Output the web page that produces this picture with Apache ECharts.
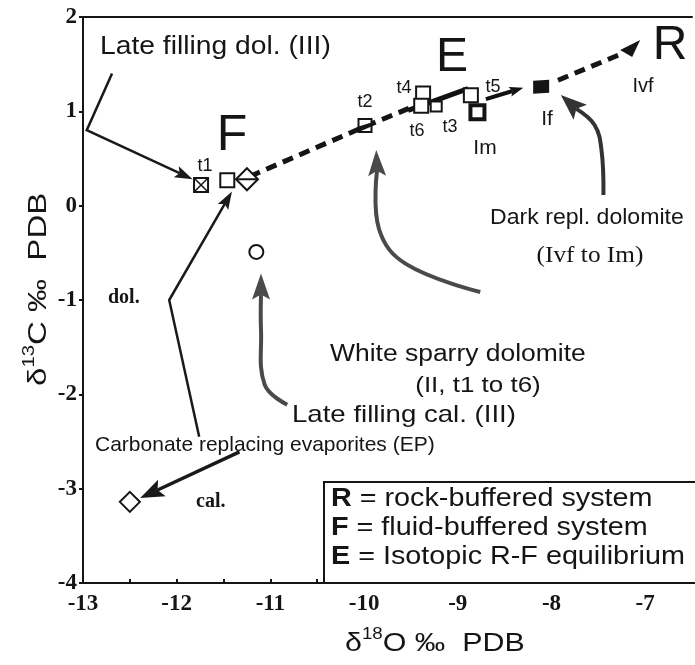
<!DOCTYPE html>
<html><head><meta charset="utf-8">
<script src="https://cdn.jsdelivr.net/npm/echarts@6/dist/echarts.min.js"></script>
<style>html,body{margin:0;padding:0;background:#fff}#chart{width:695px;height:665px}</style>
</head><body><div id="chart"></div>
<script>
// Stable-isotope compositions of carbonate phases (‰ PDB)
const sampleNames = ['t1', 'II', 'dol. EP', 't2', 't4', 't6', 't3', 't5', 'Im', 'If', 'Ivf', 'cal. III', 'cal. EP'];
const d18O = [-11.74, -11.46, -11.25, -9.99, -9.37, -9.39, -9.23, -8.86, -8.79, -8.11, -7.16, -11.15, -12.5];
const d13C = [0.22, 0.27, 0.28, 0.85, 1.19, 1.06, 1.05, 1.17, 0.99, 1.26, 1.66, -0.49, -3.14];

// Trend F -> E -> R
const trendFE = [[-11.22, 0.31], [-9.99, 0.84], [-9.50, 1.04]];
const trendER = [[-7.93, 1.33], [-7.25, 1.61]];

// Axis ticks
const xTicks = [-13, -12, -11, -10, -9, -8, -7];
const yTicks = [-4, -3, -2, -1, 0, 1, 2];

// Pointer arrows (data coordinates, last point = tip)
const pointers = [
  { path: [[-12.69, 1.40], [-12.96, 0.80], [-11.83, 0.28]], color: '#1a1a1a', width: 2.5, head: [18, 6], smooth: 0 },
  { path: [[-11.76, -2.45], [-12.08, -1.0], [-11.41, 0.15]], color: '#1a1a1a', width: 2.5, head: [18, 6], smooth: 0 },
  { path: [[-8.76, -0.915], [-9.55, -0.62], [-9.84, -0.25], [-9.87, 0.59]], color: '#4a4a4a', width: 4, head: [26, 9], smooth: 0.4 },
  { path: [[-10.82, -2.11], [-11.06, -1.90], [-11.10, -1.32], [-11.10, -0.72]], color: '#4a4a4a', width: 4, head: [26, 9], smooth: 0.4 },
  { path: [[-7.445, 0.113], [-7.466, 0.59], [-7.54, 0.855], [-7.90, 1.173]], color: '#333', width: 4, head: [26, 10], smooth: 0.4 },
  { path: [[-11.33, -2.61], [-12.39, -3.10]], color: '#1a1a1a', width: 3.5, head: [24, 9], smooth: 0 },
  { path: [[-9.53, 1.01], [-8.89, 1.24]], color: '#111', width: 5, head: null, smooth: 0 },
  { path: [[-8.70, 1.13], [-8.30, 1.25]], color: '#111', width: 4, head: [14, 5], smooth: 0 }
];

const markerFor = {
  't1': 'crossSquare', 'II': 'square', 'dol. EP': 'lineDiamond', 't2': 'halfSquare',
  't4': 'square', 't6': 'square', 't3': 'smallSquare', 't5': 'square', 'Im': 'boldSquare',
  'If': 'filledSquare', 'Ivf': 'filledTriangle', 'cal. III': 'circle', 'cal. EP': 'diamond'
};

const INK = '#151515';
const SANS = "'Liberation Sans', Arial, sans-serif";
const SERIF = "'Liberation Serif', 'Times New Roman', serif";

function drawMarker(params, api) {
  const name = sampleNames[params.dataIndex];
  const c = api.coord([api.value(0), api.value(1)]);
  const cx = c[0], cy = c[1];
  const stroke = { stroke: INK, lineWidth: 2, fill: '#fff' };
  const sq = (w, h, style) => ({ type: 'rect', shape: { x: cx - w / 2, y: cy - h / 2, width: w, height: h }, style: style });
  switch (markerFor[name]) {
    case 'square': return sq(14, 14, stroke);
    case 'smallSquare': return sq(11, 10, stroke);
    case 'boldSquare': return sq(14, 14, { stroke: INK, lineWidth: 4, fill: '#fff' });
    case 'filledSquare': return { type: 'polygon', shape: { points: [[cx - 8, cy - 6], [cx + 8, cy - 7], [cx + 8, cy + 6], [cx - 8, cy + 7]] }, style: { fill: INK } };
    case 'crossSquare': return { type: 'group', children: [
      sq(14, 14, stroke),
      { type: 'polyline', shape: { points: [[cx - 7, cy - 7], [cx + 7, cy + 7]] }, style: { stroke: INK, lineWidth: 1.5 } },
      { type: 'polyline', shape: { points: [[cx + 7, cy - 7], [cx - 7, cy + 7]] }, style: { stroke: INK, lineWidth: 1.5 } }
    ] };
    case 'halfSquare': return { type: 'group', children: [
      sq(13, 13, stroke),
      { type: 'polygon', shape: { points: [[cx - 6.5, cy + 6.5], [cx - 6.5, cy + 1], [cx + 6.5, cy - 3], [cx + 6.5, cy + 1]] }, style: { fill: INK } }
    ] };
    case 'lineDiamond': return { type: 'group', children: [
      { type: 'polygon', shape: { points: [[cx, cy - 11], [cx + 11, cy], [cx, cy + 11], [cx - 11, cy]] }, style: stroke },
      { type: 'polyline', shape: { points: [[cx - 11, cy], [cx + 11, cy]] }, style: { stroke: INK, lineWidth: 2 } }
    ] };
    case 'diamond': return { type: 'polygon', shape: { points: [[cx, cy - 10], [cx + 10, cy], [cx, cy + 10], [cx - 10, cy]] }, style: stroke };
    case 'circle': return { type: 'circle', shape: { cx: cx, cy: cy, r: 7 }, style: stroke };
    case 'filledTriangle': return { type: 'polygon', shape: { points: [[cx + 10, cy - 9], [cx - 10, cy + 1], [cx + 2, cy + 8]] }, style: { fill: INK } };
  }
}

function drawPointer(params, api) {
  const p = pointers[params.dataIndex];
  const pts = p.path.map(v => api.coord(v));
  const children = [];
  if (p.head) {
    const tip = pts[pts.length - 1], prev = pts[pts.length - 2];
    const dx = tip[0] - prev[0], dy = tip[1] - prev[1];
    const L = Math.hypot(dx, dy), ux = dx / L, uy = dy / L;
    const hl = p.head[0], hw = p.head[1];
    const base = [tip[0] - ux * hl * 0.8, tip[1] - uy * hl * 0.8];
    const b = [tip[0] - ux * hl, tip[1] - uy * hl];
    pts[pts.length - 1] = base;
    children.push({ type: 'polyline', shape: { points: pts, smooth: p.smooth }, style: { stroke: p.color, lineWidth: p.width, fill: null } });
    children.push({ type: 'polygon', shape: { points: [tip, [b[0] - uy * hw, b[1] + ux * hw], base, [b[0] + uy * hw, b[1] - ux * hw]] }, style: { fill: p.color } });
  } else {
    children.push({ type: 'polyline', shape: { points: pts, smooth: p.smooth }, style: { stroke: p.color, lineWidth: p.width, fill: null } });
  }
  return { type: 'group', children: children };
}

function txt(text, x, y, size, opts) {
  opts = opts || {};
  return {
    type: 'text', x: x, y: y, z: 50, scaleX: opts.sx || 1, rotation: opts.rot || 0,
    scaleY: opts.sy || 1,
    style: {
      text: text, fill: INK, align: opts.align || 'left', verticalAlign: 'middle',
      font: (opts.weight || 'normal') + ' ' + size + 'px ' + (opts.family || SANS),
      rich: opts.rich
    }
  };
}

const legendRich = {
  b: { fontFamily: SANS, fontWeight: 'bold', fontSize: 25, fill: INK },
  n: { fontFamily: SANS, fontSize: 25, fill: INK }
};
const nameRich = {
  n: { fontFamily: SANS, fontSize: 26, fill: INK, verticalAlign: 'bottom', lineHeight: 30 },
  s: { fontFamily: SANS, fontSize: 16, fill: INK, verticalAlign: 'top', lineHeight: 30 }
};

const graphics = [
  { type: 'rect', shape: { x: 324, y: 482, width: 380, height: 101 }, style: { fill: '#fff', stroke: INK, lineWidth: 2 }, z: 40 },
  txt('{b|R}{n| = rock-buffered system}', 331, 499, 25, { rich: legendRich, sx: 1.15 }),
  txt('{b|F}{n| = fluid-buffered system}', 331, 528, 25, { rich: legendRich, sx: 1.15 }),
  txt('{b|E}{n| = Isotopic R-F equilibrium}', 331, 557, 25, { rich: legendRich, sx: 1.15 }),
  txt('Late filling dol. (III)', 100, 47, 25, { sx: 1.13 }),
  txt('F', 232, 136, 50, { align: 'center' }),
  txt('E', 452, 58, 48, { align: 'center' }),
  txt('R', 670, 46, 48, { align: 'center' }),
  txt('t1', 205, 166, 18, { align: 'center' }),
  txt('t2', 365, 102, 18, { align: 'center' }),
  txt('t4', 404, 88, 18, { align: 'center' }),
  txt('t6', 417, 131, 18, { align: 'center' }),
  txt('t3', 450, 127, 18, { align: 'center' }),
  txt('t5', 493, 87, 18, { align: 'center' }),
  txt('Im', 485, 148, 21, { align: 'center' }),
  txt('If', 547, 119, 21, { align: 'center' }),
  txt('Ivf', 643, 86, 20, { align: 'center' }),
  txt('Dark repl. dolomite', 490, 218, 22, { sx: 1.05 }),
  txt('(Ivf to Im)', 590, 256, 23, { align: 'center', family: SERIF, sx: 1.1 }),
  txt('White sparry dolomite', 330, 355, 23, { sx: 1.15 }),
  txt('(II, t1 to t6)', 478, 386, 22, { align: 'center', sx: 1.18 }),
  txt('Late filling cal. (III)', 292, 415, 24, { sx: 1.15 }),
  txt('dol.', 108, 298, 20, { family: SERIF, weight: 'bold' }),
  txt('Carbonate replacing evaporites (EP)', 95, 445, 21, { sx: 1.0 }),
  txt('cal.', 196, 502, 20, { family: SERIF, weight: 'bold' }),
  txt('{n|δ}{s|18}{n|O ‰  PDB}', 345, 642, 26, { rich: nameRich, sx: 1.17 }),
  txt('{n|δ}{s|13}{n|C ‰  PDB}', 37, 386, 26, { rich: nameRich, rot: Math.PI / 2, sx: 1.27 })
];

const chart = echarts.init(document.getElementById('chart'), null, { renderer: 'canvas' });
const axisFont = { fontFamily: SERIF, fontWeight: 'bold', fontSize: 23, color: INK };
chart.setOption({
  animation: false,
  backgroundColor: '#fff',
  grid: { left: 83, right: 0, top: 17, bottom: 82, containLabel: false },
  xAxis: [
    {
      type: 'value', min: -13, max: -6.5, interval: 0.5,
      axisLine: { onZero: false, lineStyle: { color: INK, width: 2 } },
      axisTick: { inside: true, length: 4, lineStyle: { color: INK, width: 2 } },
      splitLine: { show: false },
      axisLabel: Object.assign({ margin: 10, formatter: v => (xTicks.indexOf(v) >= 0 ? String(v) : '') }, axisFont)
    },
    {
      type: 'value', position: 'top', min: -13, max: -6.5,
      axisLine: { onZero: false, lineStyle: { color: INK, width: 2 } },
      axisTick: { show: false }, axisLabel: { show: false }, splitLine: { show: false }
    }
  ],
  yAxis: {
    type: 'value', min: -4, max: 2, interval: 1,
    axisLine: { onZero: false, lineStyle: { color: INK, width: 2 } },
    axisTick: { inside: false, length: 4, lineStyle: { color: INK, width: 2 } },
    splitLine: { show: false },
    axisLabel: Object.assign({ margin: 6, formatter: v => (yTicks.indexOf(v) >= 0 ? String(v) : '') }, axisFont)
  },
  series: [
    { type: 'line', data: trendFE, symbol: 'none', z: 2, lineStyle: { color: INK, width: 5, type: [11, 7], cap: 'butt' } },
    { type: 'line', data: trendER, symbol: 'none', z: 2, lineStyle: { color: INK, width: 5, type: [11, 7], cap: 'butt' } },
    { type: 'custom', z: 3, clip: false, renderItem: drawPointer, encode: { x: 0, y: 1 },
      data: pointers.map(p => [p.path[0][0], p.path[0][1]]) },
    { type: 'custom', z: 5, clip: false, renderItem: drawMarker, encode: { x: 0, y: 1 },
      data: d18O.map((x, i) => [x, d13C[i]]) }
  ],
  graphic: graphics
});
</script>
</body></html>
